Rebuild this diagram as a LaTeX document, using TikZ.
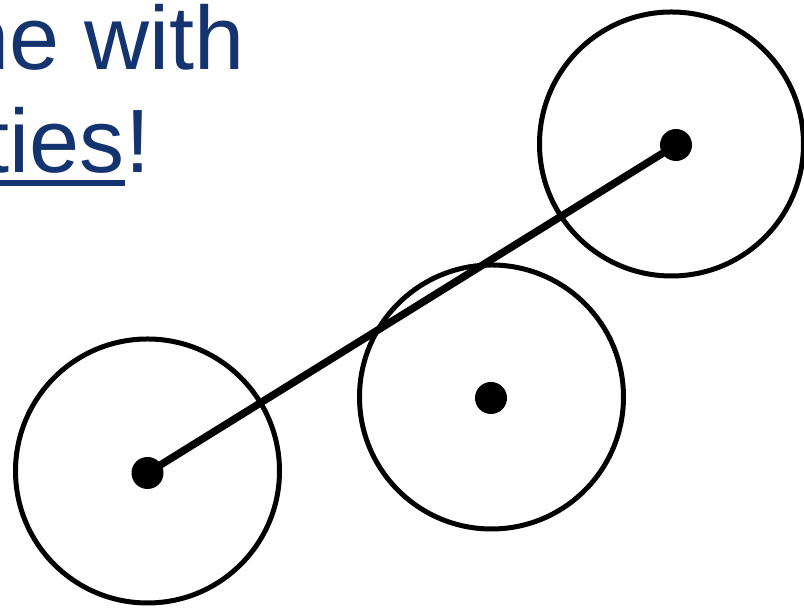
\documentclass[tikz,border=0pt]{standalone}
\usepackage{fontspec}
\setmainfont{Liberation Sans}
\definecolor{slideblue}{RGB}{20,52,112}
\begin{document}
\begin{tikzpicture}[x=1pt,y=1pt,
  ring/.style={line width=5pt},
  dotnode/.style={circle,fill=black,inner sep=0pt,minimum size=32pt},
  link/.style={line width=7.5pt},
  slidetext/.style={inner sep=0pt,text=slideblue,font=\fontsize{90}{108}\selectfont}]
\useasboundingbox (0,0) rectangle (804,609);
\clip (0,0) rectangle (804,609);
\fill[white] (0,0) rectangle (804,609);
% text
\node[slidetext,anchor=base east] (l1) at (245,539) {ne with};
\node[slidetext,anchor=base east] (l2) at (125,436) {ties};
\node[slidetext,anchor=base west] (l3) at (l2.base east) {!};
\draw[slideblue,line width=6.5pt] ([yshift=-10pt]l2.base west) -- ([yshift=-10pt]l2.base east);
% circles
\coordinate (ca) at (147.5,138);
\coordinate (cb) at (491.5,212);
\coordinate (cc) at (671.5,465);
\draw[ring] (ca) circle (132);
\draw[ring] (cb) circle (132);
\draw[ring] (cc) circle (132);
\node[dotnode] (a) at (147.5,136) {};
\node[dotnode] (b) at (491,211) {};
\node[dotnode] (c) at (676,464) {};
\draw[link] (a.center) -- (c.center);
\end{tikzpicture}
\end{document}
